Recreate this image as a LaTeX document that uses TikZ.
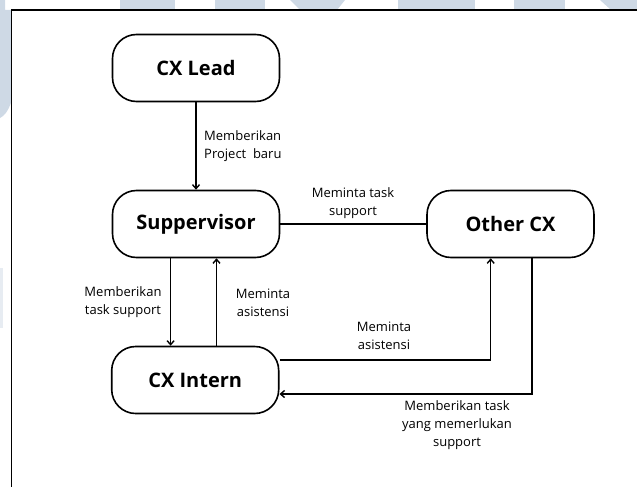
\documentclass[tikz,border=0pt]{standalone}
\usepackage{fontspec}
\setmainfont{Open Sans}
\usetikzlibrary{arrows.meta}
\definecolor{wm}{RGB}{206,217,229}
\tikzset{
  box/.style={draw=black, line width=1.6pt, rounded corners=24pt, fill=white,
    minimum width=167pt, minimum height=67pt, inner sep=0pt,
    font=\fontsize{20}{24}\selectfont\bfseries},
  lbl/.style={font=\fontsize{13}{18}\selectfont, inner sep=0pt, text=black},
  conn/.style={line width=1.5pt},
  arr/.style={conn, -{Straight Barb[length=4pt,width=7pt,line width=1.4pt]}}
}
\begin{document}
\begin{tikzpicture}[x=1pt,y=-1pt]
\useasboundingbox (0,0) rectangle (637,487);
% watermark pieces outside the frame
\fill[wm] (120,0) rectangle (175,10);
\fill[wm] (215,0) rectangle (265,10);
\fill[wm] (290,0) -- (345,0) -- (337,10) -- (300,10) -- cycle;
\fill[wm] (398,0) rectangle (475,10);
\fill[wm] (514,0) rectangle (565,10);
\fill[wm] (600,0) -- (637,0) -- (637,10) -- (611,10) -- cycle;
\fill[wm] (0,0) -- (5,0) -- (5,10) -- (12,10) -- (12,100) .. controls (8,112) and (4,116) .. (0,118) -- cycle;
\fill[wm!50] (0,268) rectangle (2.5,328);
% frame
\draw[line width=1.1pt, fill=white] (11.5,10) rectangle (660,510);
% nodes
\node[box] (lead) at (196,68) {CX Lead};
\node[box] (sup) at (196,224) {Suppervisor};
\node[box] (other) at (510.5,224) {Other CX};
\node[box] (intern) at (195.2,380) {CX Intern};
% connectors
\draw[arr] (lead.south) -- (sup.north);
\draw[conn] (sup.east) -- (other.west);
\coordinate (xa) at (170.6,0);
\coordinate (xb) at (216.5,0);
\draw[arr] (sup.south -| xa) -- (intern.north -| xa);
\draw[arr] (intern.north -| xb) -- (sup.south -| xb);
\draw[arr] ([yshift=20pt]intern.east) -| ([xshift=-19.8pt]other.south);
\draw[arr] ([xshift=21.5pt]other.south) |- ([yshift=-14pt]intern.east);
% labels
\node[lbl, anchor=west, align=left] (l1) at (204,146) {Memberikan\\Project\ \ baru};
\node[lbl, align=center] (l2) at (353,203) {Meminta task\\support};
\node[lbl, align=center] (l3) at (123,302.5) {Memberikan\\task support};
\node[lbl, align=center] (l4) at (263,302.5) {Meminta\\asistensi};
\node[lbl, align=center] (l5) at (384,336) {Meminta\\asistensi};
\node[lbl, align=center] (l6) at (457,425) {Memberikan task\\yang memerlukan\\support};
\end{tikzpicture}
\end{document}
